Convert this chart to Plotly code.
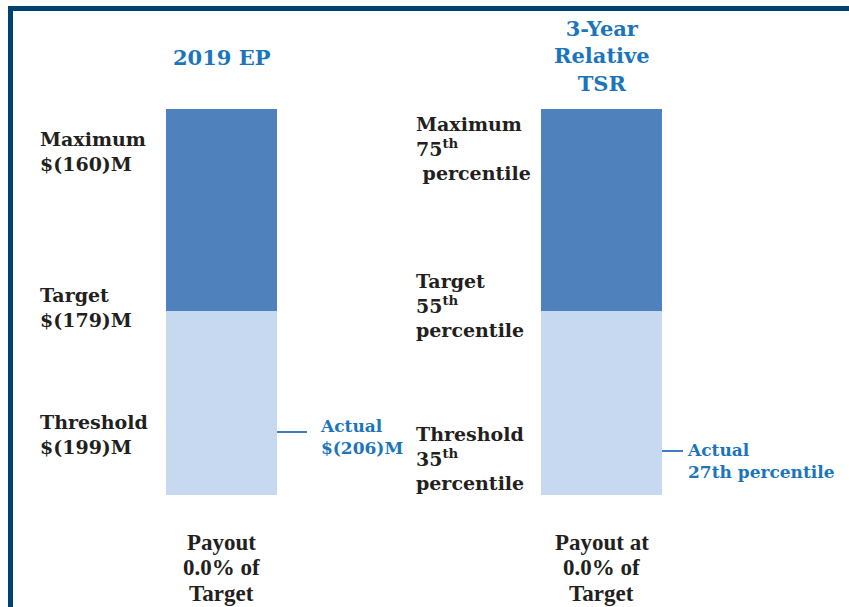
import plotly.graph_objects as go

# bar data (heights, in pixel-like units above bar base)
categories = ["2019 EP", "3-Year<br>Relative<br>TSR"]
lower_seg = [184, 184]      # threshold -> target band
upper_seg = [202, 202]      # target -> maximum band
actual_level = [63, 44]     # where the "actual" tick sits

max_labels = ["Maximum<br>$(160)M", "Maximum<br>75<sup>th</sup><br> percentile"]
target_labels = ["Target<br>$(179)M", "Target<br>55<sup>th</sup><br>percentile"]
threshold_labels = ["Threshold<br>$(199)M", "Threshold<br>35<sup>th</sup><br>percentile"]
actual_labels = ["Actual<br>$(206)M", "Actual<br>27th percentile"]
payout_lines = [["Payout", "0.0% of", "Target"], ["Payout at", "0.0% of", "Target"]]

W, H = 849, 607
BASE = 495  # pixel row of the bar bottoms
bar_x = [221.5, 601.5]
bar_w = [111, 121]
tick_len = [30, 21]

DARK = "#4F81BD"
LIGHT = "#C6D9F1"
BLUE_TXT = "#1B75BB"
INK = "#231F20"
NAVY = "#00426F"
SERIF = "DejaVu Serif"


def py(pix):
    # pixel row -> data y
    return BASE - pix


fig = go.Figure()
fig.add_trace(go.Bar(x=bar_x, y=lower_seg, width=bar_w, marker=dict(color=LIGHT, line_width=0)))
fig.add_trace(go.Bar(x=bar_x, y=upper_seg, width=bar_w, marker=dict(color=DARK, line_width=0)))

for i in range(2):
    x0 = bar_x[i] + bar_w[i] / 2
    fig.add_trace(go.Scatter(x=[x0, x0 + tick_len[i]], y=[actual_level[i]] * 2, mode="lines",
                             line=dict(color="#3F7DC1", width=2), hoverinfo="skip"))

ann = []
# titles
ann.append(dict(x=bar_x[0], y=py(57), text=categories[0], font=dict(size=21, color=BLUE_TXT)))
ann.append(dict(x=bar_x[1], y=py(56), text=categories[1], font=dict(size=21, color=BLUE_TXT)))

# level labels
left_x = [38, 414]
ys = [(151, 307, 434), (148, 305, 458)]
for i in range(2):
    for lab, yy in zip([max_labels[i], target_labels[i], threshold_labels[i]], ys[i]):
        ann.append(dict(x=left_x[i], y=py(yy), text=lab, xanchor="left", align="left",
                        font=dict(size=19, color=INK)))

# actual labels
act_x = [bar_x[0] + bar_w[0] / 2 + 41, bar_x[1] + bar_w[1] / 2 + 23]
act_y = [437, 461]
for i in range(2):
    ann.append(dict(x=act_x[i], y=py(act_y[i]), text=actual_labels[i], xanchor="left", align="left",
                    font=dict(size=17, color=BLUE_TXT)))

# payout text under bars
for i in range(2):
    for j, line in enumerate(payout_lines[i]):
        ann.append(dict(x=bar_x[i], y=py(542 + 25.5 * j), text="<b>" + line + "</b>",
                        font=dict(family="Liberation Serif", size=23, color=INK)))

for a in ann:
    a.setdefault("xanchor", "center")
    a.update(xref="x", yref="y", showarrow=False, yanchor="middle")
    if a["font"].get("family") is None:
        a["text"] = "<b>" + a["text"] + "</b>"

shapes = [
    dict(type="rect", xref="paper", yref="paper", x0=8 / W, x1=1, y0=1 - 11 / H, y1=1 - 6 / H,
         fillcolor=NAVY, line_width=0),
    dict(type="rect", xref="paper", yref="paper", x0=8 / W, x1=13 / W, y0=0, y1=1 - 6 / H,
         fillcolor=NAVY, line_width=0),
]

fig.update_layout(
    width=W, height=H, margin=dict(l=0, r=0, t=0, b=0),
    barmode="stack", showlegend=False,
    plot_bgcolor="white", paper_bgcolor="white",
    font=dict(family=SERIF, color=INK),
    xaxis=dict(range=[0, W], visible=False, fixedrange=True),
    yaxis=dict(range=[BASE - H, BASE], visible=False, fixedrange=True),
    annotations=ann, shapes=shapes,
)

# drop the default 8px body margin so the figure fills the window
fig.write_html("out.html", config={"displayModeBar": False},
               post_script="document.body.style.margin='0';")
